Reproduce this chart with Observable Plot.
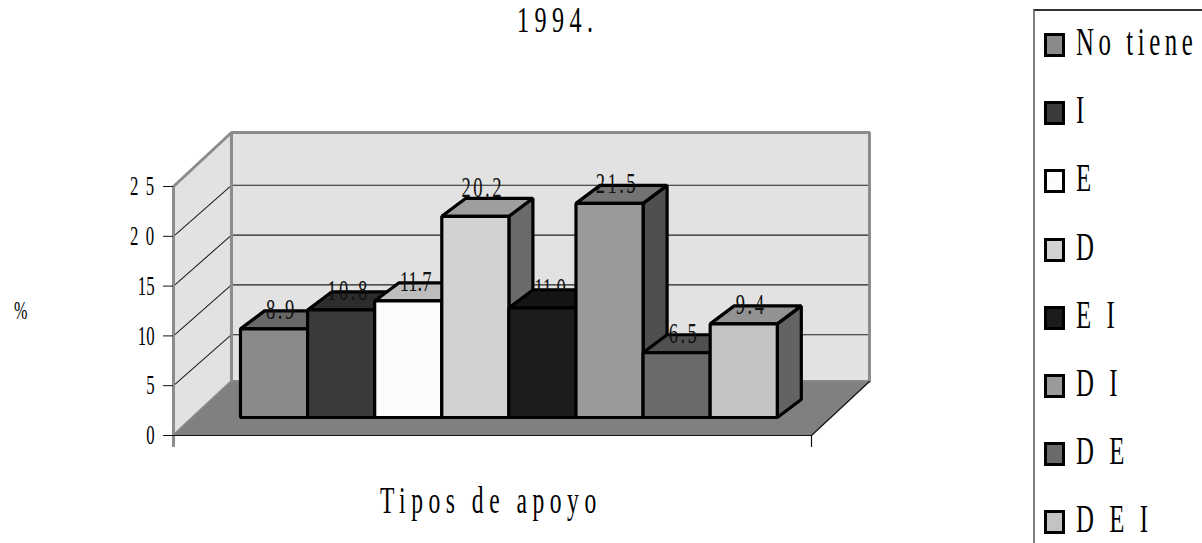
<!DOCTYPE html>
<html>
<head>
<meta charset="utf-8">
<script src="https://cdn.jsdelivr.net/npm/d3@7"></script>
<script src="https://cdn.jsdelivr.net/npm/@observablehq/plot@0.6"></script>
<style>
  html, body { margin: 0; padding: 0; background: #fff; }
  #page { position: relative; width: 1202px; height: 543px; overflow: hidden; font-family: "Liberation Serif", serif; color: #000; }
  #page svg { position: absolute; left: 0; top: 0; }
  .cap { position: absolute; white-space: pre; transform-origin: 0 0; line-height: 0.8; }
  #legend { position: absolute; left: 1033px; top: 9px; width: 180px; height: 545px; border-left: 2px solid #808080; border-top: 2px solid #333; }
  .swatch { position: absolute; left: 9px; width: 15px; height: 18px; border: 3px solid #000; }
</style>
</head>
<body>
<div id="page"></div>
<script>
const categories = ["No tiene", "I", "E", "D", "E I", "D I", "D E", "D E I"];
const values = [8.9, 10.8, 11.7, 20.2, 11.0, 21.5, 6.5, 9.4];
const fills = ["#8a8a8a", "#3b3b3b", "#fcfcfc", "#d2d2d2", "#1c1c1c", "#9a9a9a", "#6a6a6a", "#c3c3c3"];
const yTicks = [0, 5, 10, 15, 20, 25];
const titleText = "1994.";
const xTitle = "Tipos de apoyo";
const yTitle = "%";

// Oblique projection, expressed in scale units
const xMin = -0.9985, xMax = 8.51;          // floor's front edge, in bar widths
const wallDx = 0.864, wallDy = 5.42;        // depth of the walls and floor
const gridDy = 5.12;                        // depth of the gridlines
const barBase = 1.807;                      // bars stand back from the front edge
const barDx = 0.358, barDy = 1.807;         // depth of a bar
const yMax = 25;

const shade = (c, k) => { const q = d3.rgb(c); return d3.rgb(q.r * k, q.g * k, q.b * k).formatHex(); };
const poly = (id, fill, pts) => pts.map(([x, y]) => ({id, fill, x, y}));

const walls = [
  ...poly("left", "#e2e2e2", [[xMin, 0], [xMin, yMax], [xMin + wallDx, yMax + wallDy], [xMin + wallDx, wallDy]]),
  ...poly("back", "#e2e2e2", [[xMin + wallDx, wallDy], [xMin + wallDx, yMax + wallDy], [xMax + wallDx, yMax + wallDy], [xMax + wallDx, wallDy]])
];
const floor = poly("floor", "#808080", [[xMin, 0], [xMax, 0], [xMax + wallDx, wallDy], [xMin + wallDx, wallDy]]);

const grid = yTicks.slice(1, 5).flatMap(v => [
  {id: v, x: xMin, y: v},
  {id: v, x: xMin + wallDx, y: v + gridDy},
  {id: v, x: xMax + wallDx, y: v + gridDy}
]);

const bars = values.flatMap((v, i) => {
  const t = barBase + v, b = barBase, f = fills[i];
  return [
    ...poly(`s${i}`, shade(f, 0.51), [[i + 1, b], [i + 1 + barDx, b + barDy], [i + 1 + barDx, t + barDy], [i + 1, t]]),
    ...poly(`t${i}`, shade(f, 0.75), [[i, t], [i + barDx, t + barDy], [i + 1 + barDx, t + barDy], [i + 1, t]]),
    ...poly(`f${i}`, f, [[i, b], [i, t], [i + 1, t], [i + 1, b]])
  ];
});

const labels = values.map((v, i) => ({x: i + 0.5 + 0.11, y: barBase + v + (v === 20.2 ? 0.9 : 0), text: v.toFixed(1)}));

const polyMark = (data, o) => Plot.line(data, {x: "x", y: "y", z: "id", fill: "fill", curve: "linear-closed", ...o});

const chart = Plot.plot({
  width: 1202, height: 543,
  marginLeft: 173, marginRight: 391, marginTop: 186, marginBottom: 108,
  x: {domain: [xMin, xMax], axis: null},
  y: {domain: [0, yMax], axis: null},
  color: {type: "identity"},
  style: {background: "transparent", fontFamily: "'Liberation Serif', serif", overflow: "visible"},
  marks: [
    polyMark(walls, {stroke: "none"}),
    Plot.line(grid, {x: "x", y: "y", z: "id", stroke: "#222", strokeWidth: 1.1}),
    Plot.line(walls, {x: "x", y: "y", z: "id", curve: "linear-closed", stroke: "#8c8c8c", strokeWidth: 3, strokeLinejoin: "miter"}),
    polyMark(floor, {stroke: "none"}),
    Plot.ruleX([xMin], {y1: -1.2, y2: yMax, stroke: "#8c8c8c", strokeWidth: 3}),
    Plot.line([{x: xMin, y: 0}, {x: xMax, y: 0}, {x: xMax + wallDx, y: wallDy}], {x: "x", y: "y", stroke: "#111", strokeWidth: 1.2}),
    Plot.ruleX([xMax], {y1: -1.2, y2: 0, stroke: "#111", strokeWidth: 1.2}),
    polyMark(bars, {stroke: "#000", strokeWidth: 3.2, strokeLinejoin: "miter"}),
    Plot.axisY({ticks: yTicks, tickSize: 10, tickPadding: 9, tickFormat: String, label: null, fontSize: 27, stroke: "#111"}),
    Plot.text(labels, {x: "x", y: "y", text: "text", dy: -10, lineAnchor: "bottom", fontSize: 30, fill: "#111"})
  ]
});

// The source picture is condensed horizontally: narrow the glyphs of chart text
const squeeze = (el, sx, ls, shift = 0) => {
  el.setAttribute("transform", `${el.getAttribute("transform") || ""} translate(${shift},0) scale(${sx},1)`.trim());
  el.style.letterSpacing = ls + "px";
};
chart.querySelectorAll('g[aria-label="y-axis tick label"] text').forEach(t => {
  const w = /^2/.test(t.textContent);
  squeeze(t, 0.62, w ? 12 : 0, w ? 7 : 0);
});
chart.querySelectorAll('g[aria-label="text"] text').forEach(t => squeeze(t, 0.62, /^11/.test(t.textContent) ? 0 : 4));

const page = document.getElementById("page");
page.append(chart);

const cap = (text, left, baseline, size, sx, ls) => {
  const d = document.createElement("div");
  d.className = "cap";
  d.textContent = text;
  d.style.cssText = `left:${left}px;top:${baseline - size * 0.7375}px;font-size:${size}px;letter-spacing:${ls}px;transform:scaleX(${sx});`;
  page.append(d);
  return d;
};
cap(titleText, 517, 32, 35.5, 0.68, 8);
cap(xTitle, 380, 513, 38, 0.62, 8.9);
cap(yTitle, 14, 320, 26, 0.62, 0);

const legend = document.createElement("div");
legend.id = "legend";
page.append(legend);
const rowStep = 68.2;
categories.forEach((c, i) => {
  const s = document.createElement("div");
  s.className = "swatch";
  s.style.top = (22 + i * rowStep) + "px";
  s.style.background = fills[i];
  legend.append(s);
  cap(c, 1076, 55.5 + i * rowStep, 40, 0.62, 7.4);
});
</script>
</body>
</html>
